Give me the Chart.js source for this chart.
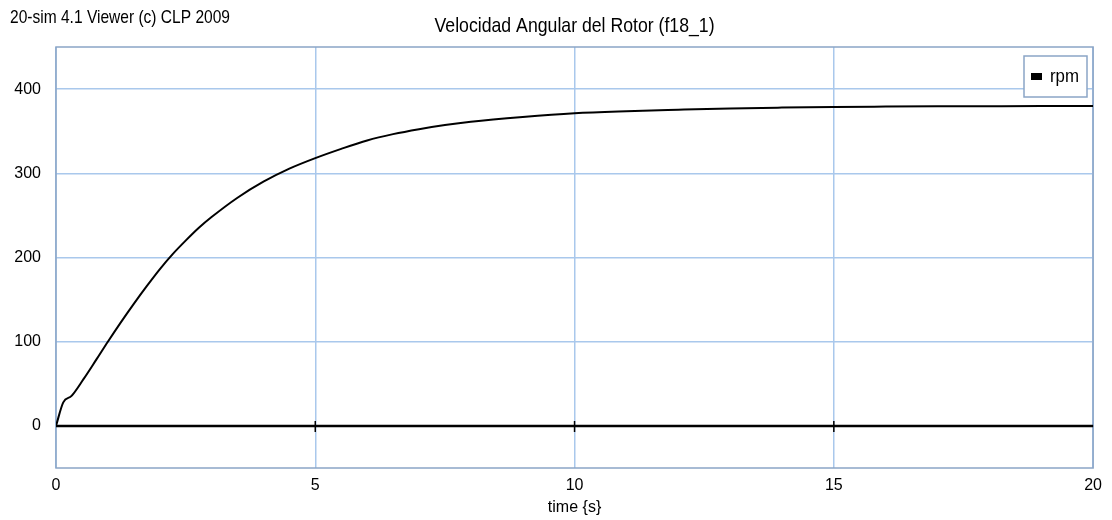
<!DOCTYPE html>
<html>
<head>
<meta charset="utf-8">
<script src="https://cdn.jsdelivr.net/npm/chart.js@4.4.1/dist/chart.umd.min.js"></script>
<style>
  body { margin: 0; background: #fff; }
  #wrap { width: 1112px; height: 520px; }
</style>
</head>
<body>
<div id="wrap"><canvas id="myChart"></canvas></div>
<script>
// values
const timeS = [0, 0.14, 0.3, 0.53, 0.78, 1, 1.25, 1.5, 1.75, 2, 2.25, 2.5, 2.75, 3, 3.5, 4, 4.5, 5, 5.5, 6, 6.5, 7, 7.5, 8, 9, 10, 11, 12, 13, 14, 15, 16, 17, 18, 19, 20];
const rpm = [0, 28, 35.6, 55.5, 79, 100, 123, 145, 166, 186, 204, 220, 235, 248, 271, 290, 305.5, 318, 329, 339, 346.5, 352.4, 357.3, 361.3, 367, 371.4, 373.8, 375.5, 377, 378, 378.8, 379.2, 379.5, 379.7, 379.9, 380];
const xTicks = [0, 5, 10, 15, 20];
const yTicks = [0, 100, 200, 300, 400];
const seriesName = 'rpm';
const chartTitle = 'Velocidad Angular del Rotor (f18_1)';
const viewerText = '20-sim 4.1 Viewer (c) CLP 2009';
const xTitle = 'time {s}';

const fontName = "'Liberation Sans', Arial, sans-serif";
const gridBlue = '#a9c8ec';
const frameBlue = '#8ba5c6';

const simPlugin = {
  id: 'simFrame',
  beforeDatasetsDraw(chart) {
    const { ctx, chartArea: a, scales: { x, y } } = chart;
    ctx.save();
    // frame round the plot
    ctx.strokeStyle = frameBlue;
    ctx.lineWidth = 1.5;
    ctx.strokeRect(a.left, a.top, a.right - a.left, a.bottom - a.top);
    // black zero line with tick marks
    const y0 = y.getPixelForValue(0);
    ctx.strokeStyle = '#000';
    ctx.lineWidth = 2.5;
    ctx.beginPath();
    ctx.moveTo(a.left, y0);
    ctx.lineTo(a.right, y0);
    ctx.stroke();
    ctx.lineWidth = 1.5;
    ctx.beginPath();
    xTicks.slice(1, -1).forEach(t => {
      const px = x.getPixelForValue(t);
      ctx.moveTo(px, y0 - 5);
      ctx.lineTo(px, y0 + 6);
    });
    ctx.stroke();
    ctx.restore();
  },
  afterDraw(chart) {
    const { ctx, chartArea: a } = chart;
    ctx.save();
    ctx.fillStyle = '#000';
    ctx.textBaseline = 'middle';
    // the viewer uses a narrow face, squeeze the text to its width
    ctx.font = '19px ' + fontName;
    ctx.textAlign = 'left';
    ctx.fillText(viewerText, 10, 18, 220);
    ctx.font = '21px ' + fontName;
    ctx.textAlign = 'center';
    ctx.fillText(chartTitle, (a.left + a.right) / 2, 26, 280);

    // legend box
    const bx = 1024, by = 56, bw = 63, bh = 41;
    ctx.fillStyle = '#fff';
    ctx.fillRect(bx, by, bw, bh);
    ctx.strokeStyle = frameBlue;
    ctx.lineWidth = 1.5;
    ctx.strokeRect(bx, by, bw, bh);
    ctx.fillStyle = chart.data.datasets[0].borderColor;
    ctx.fillRect(bx + 7, by + 17, 11, 7);
    ctx.font = '19px ' + fontName;
    ctx.textAlign = 'left';
    ctx.fillText(chart.data.datasets[0].label, bx + 26, by + 21, 29);
    ctx.restore();
  }
};

const chartElement = document.getElementById('myChart');

new Chart(chartElement, {
  type: 'line',
  data: {
    datasets: [{
      label: seriesName,
      data: timeS.map((t, i) => ({ x: t, y: rpm[i] })),
      borderColor: '#000',
      borderWidth: 2,
      pointRadius: 0,
      cubicInterpolationMode: 'monotone'
    }]
  },
  options: {
    responsive: true,
    maintainAspectRatio: false,
    animation: false,
    layout: { padding: { top: 47, right: 17, left: 0, bottom: 0 } },
    plugins: {
      legend: { display: false },
      tooltip: { enabled: false },
      title: { display: false }
    },
    scales: {
      x: {
        type: 'linear',
        min: 0,
        max: 20,
        afterBuildTicks: s => { s.ticks = xTicks.map(v => ({ value: v })); },
        afterFit: s => { s.height = 52; },
        grid: { color: gridBlue, lineWidth: 1.5, drawTicks: false },
        border: { display: false },
        ticks: { color: '#000', padding: 10, font: { family: fontName, size: 16, lineHeight: 1 } },
        title: { display: true, text: xTitle, color: '#000', padding: { top: 0, bottom: 3 }, font: { family: fontName, size: 16, lineHeight: 1.2 } }
      },
      y: {
        min: -50,
        max: 450,
        afterBuildTicks: s => { s.ticks = yTicks.map(v => ({ value: v })); },
        afterFit: s => { s.width = 56; },
        grid: { color: gridBlue, lineWidth: 1.5, drawTicks: false },
        border: { display: false },
        ticks: { color: '#000', padding: 15, font: { family: fontName, size: 16, lineHeight: 1 } }
      }
    }
  },
  plugins: [simPlugin]
});
</script>
</body>
</html>
